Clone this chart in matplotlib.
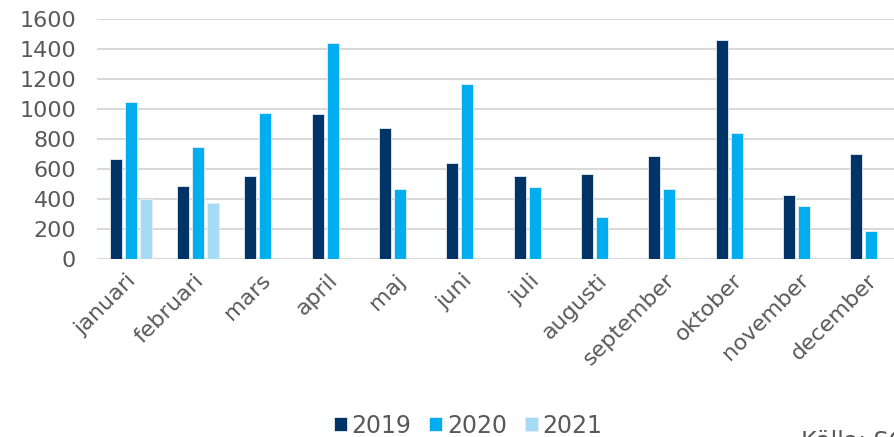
import numpy as np
import matplotlib
matplotlib.use("Agg")
import matplotlib.pyplot as plt
from matplotlib.transforms import ScaledTranslation

manader = ["januari", "februari", "mars", "april", "maj", "juni", "juli",
           "augusti", "september", "oktober", "november", "december"]
ar = ["2019", "2020", "2021"]
v2019 = [668, 484, 551, 969, 871, 640, 553, 564, 687, 1458, 427, 702]
v2020 = [1044, 747, 973, 1442, 467, 1164, 482, 278, 464, 840, 351, 187]
v2021 = [400, 376, 0, 0, 0, 0, 0, 0, 0, 0, 0, 0]
farger = ["#003366", "#00adef", "#a6dbf5"]

fig = plt.figure(figsize=(8.95, 4.37), dpi=100)
ax = fig.add_axes([0.1084, 0.4073, 0.9028, 0.5492])

x = np.arange(len(manader))
pitch = 0.223
w = 0.178
for i, (vals, c, lab) in enumerate(zip([v2019, v2020, v2021], farger, ar)):
    ax.bar(x + (i - 1) * pitch, vals, width=w, color=c, label=lab,
           edgecolor="#e8eef4", linewidth=0.6, zorder=3)

ax.set_xlim(-0.5, 11.5)
ax.set_ylim(0, 1600)
ax.set_yticks(range(0, 1601, 200))
ax.grid(axis="y", color="#d9d9d9", linewidth=1.5, zorder=0)
for s in ax.spines.values():
    s.set_visible(False)
ax.tick_params(axis="both", length=0, labelcolor="#595959")
ax.tick_params(axis="y", pad=15, labelsize=16)
ax.set_xticks(x)
ax.set_xticklabels(manader, rotation=45, ha="right", rotation_mode="anchor",
                   fontsize=16)
ax.tick_params(axis="x", pad=8)
# flytta månadsetiketterna lite åt vänster
skift = ScaledTranslation(-5 / 100, 0, fig.dpi_scale_trans)
for t in ax.get_xticklabels():
    t.set_transform(t.get_transform() + skift)

fig.legend(loc="center", bbox_to_anchor=(0.523, 0.026), ncol=3, frameon=False,
           fontsize=17, labelcolor="#595959", handlelength=0.55,
           handleheight=0.55, handletextpad=0.2, columnspacing=0.75,
           borderpad=0, borderaxespad=0)
fig.text(0.895, -0.027, "Källa: SCB", fontsize=17, color="#595959")

fig.savefig("out.png", dpi=100)
